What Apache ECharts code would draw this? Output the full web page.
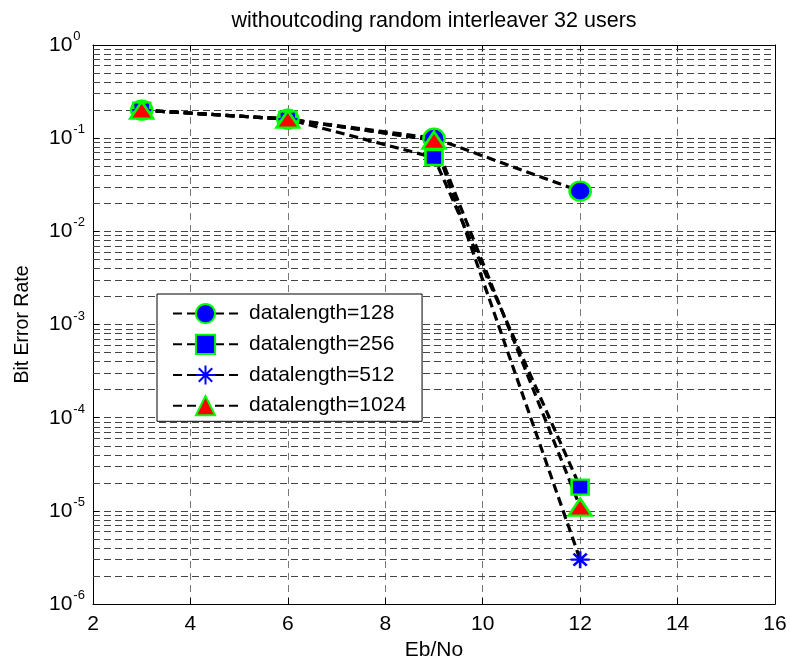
<!DOCTYPE html>
<html>
<head>
<meta charset="utf-8">
<script src="https://cdn.jsdelivr.net/npm/echarts@6/dist/echarts.min.js"></script>
<style>
  html, body { margin: 0; padding: 0; background: #fff; }
  #main { width: 790px; height: 666px; }
</style>
</head>
<body>
<div id="main"></div>
<script>
// data
var ebno = [3, 6, 9, 12];
var ber128 = [0.2, 0.16, 0.1, 0.027];
var ber256 = [0.2, 0.16, 0.062, 1.8e-5];
var ber512 = [0.2, 0.16, 0.095, 3e-6];
var ber1024 = [0.2, 0.16, 0.095, 1.1e-5];

var names = ['datalength=128', 'datalength=256', 'datalength=512', 'datalength=1024'];
var xTicks = [2, 4, 6, 8, 10, 12, 14, 16];
var yExps = [-6, -5, -4, -3, -2, -1, 0];

var FONT = '"Liberation Sans", Arial, Helvetica, sans-serif';

function pairs(xs, ys) {
    var out = [];
    for (var i = 0; i < xs.length; i++) {
        out.push([xs[i], ys[i]]);
    }
    return out;
}

// minor grid lines 2..9 x 10^e (matlab style log grid)
var minorLines = [];
for (var e = yExps[0]; e < yExps[yExps.length - 1]; e++) {
    for (var k = 2; k <= 9; k++) {
        minorLines.push({ yAxis: k * Math.pow(10, e) });
    }
}

var starPath = 'path://M10,0 L10,20 M0,10 L20,10 M3,3 L17,17 M17,3 L3,17';

function dataSeries(name, ys, symbol, size, fill, border) {
    return {
        name: name,
        type: 'line',
        data: pairs(ebno, ys),
        symbol: symbol,
        symbolSize: size,
        showAllSymbol: true,
        z: 3,
        lineStyle: { color: '#000', width: 3.2, type: [9, 5] },
        itemStyle: { color: fill, borderColor: border, borderWidth: 2.5 },
        emphasis: { disabled: true }
    };
}

var myChart = echarts.init(document.getElementById('main'), null, { renderer: 'canvas' });

var option = {
    animation: false,
    backgroundColor: '#fff',
    textStyle: { fontFamily: FONT },
    title: {
        text: 'withoutcoding random interleaver 32 users',
        left: 434,
        textAlign: 'center',
        top: 10,
        padding: 0,
        textStyle: { fontFamily: FONT, fontSize: 21.5, fontWeight: 'normal', color: '#000' }
    },
    grid: { left: 93, right: 15, top: 45, bottom: 60 },
    legend: {
        data: names,
        orient: 'vertical',
        left: 157,
        top: 294,
        z: 10,
        itemWidth: 65,
        itemHeight: 24,
        itemGap: 9.5,
        padding: [9, 16, 5, 15],
        backgroundColor: '#fff',
        borderColor: '#000',
        borderWidth: 1,
        borderRadius: 0,
        selectedMode: false,
        textStyle: { fontFamily: FONT, fontSize: 21, color: '#000', padding: [0, 0, 0, 6] }
    },
    xAxis: [{
        type: 'value',
        min: xTicks[0],
        max: xTicks[xTicks.length - 1],
        interval: 2,
        name: 'Eb/No',
        nameLocation: 'middle',
        nameGap: 33,
        nameTextStyle: { fontFamily: FONT, fontSize: 21, color: '#000' },
        axisLine: { show: true, onZero: false, lineStyle: { color: '#000', width: 1 } },
        axisTick: { show: true, inside: true, length: 6, lineStyle: { color: '#000' } },
        axisLabel: { margin: 10, fontFamily: FONT, fontSize: 21, color: '#000' },
        splitLine: { show: true, lineStyle: { color: '#777', width: 1, type: [7, 5] } }
    }, {
        type: 'value',
        position: 'top',
        min: xTicks[0],
        max: xTicks[xTicks.length - 1],
        interval: 2,
        axisLine: { show: true, onZero: false, lineStyle: { color: '#000', width: 1 } },
        axisTick: { show: true, inside: true, length: 6, lineStyle: { color: '#000' } },
        axisLabel: { show: false },
        splitLine: { show: false }
    }],
    yAxis: [{
        type: 'log',
        logBase: 10,
        min: Math.pow(10, yExps[0]),
        max: Math.pow(10, yExps[yExps.length - 1]),
        splitNumber: 6,
        name: 'Bit Error Rate',
        nameLocation: 'middle',
        nameRotate: 90,
        nameGap: 60,
        nameTextStyle: { fontFamily: FONT, fontSize: 19.5, color: '#000' },
        axisLine: { show: true, onZero: false, lineStyle: { color: '#000', width: 1 } },
        axisTick: { show: true, inside: true, length: 6, lineStyle: { color: '#000' } },
        axisLabel: {
            align: 'left',
            margin: 44,
            formatter: function(v) {
                var ex = Math.round(Math.log(v) / Math.LN10);
                return '{b|10}{s|' + ex + '}';
            },
            rich: {
                b: { fontFamily: FONT, fontSize: 21, color: '#000' },
                s: { fontFamily: FONT, fontSize: 13, color: '#000', padding: [0, 0, 17, 1] }
            }
        },
        splitLine: { show: true, lineStyle: { color: '#444', width: 1, type: [7, 4] } }
    }, {
        type: 'log',
        logBase: 10,
        position: 'right',
        min: Math.pow(10, yExps[0]),
        max: Math.pow(10, yExps[yExps.length - 1]),
        splitNumber: 6,
        axisLine: { show: true, onZero: false, lineStyle: { color: '#000', width: 1 } },
        axisTick: { show: true, inside: true, length: 6, lineStyle: { color: '#000' } },
        axisLabel: { show: false },
        splitLine: { show: false }
    }],
    series: [
        {
            name: 'grid',
            type: 'line',
            data: [],
            z: 1,
            silent: true,
            markLine: {
                z: 1,
                silent: true,
                precision: 12,
                symbol: ['none', 'none'],
                label: { show: false },
                lineStyle: { color: '#444', width: 1, type: [7, 4] },
                emphasis: { disabled: true },
                data: minorLines
            }
        },
        dataSeries(names[0], ber128, 'circle', [21, 19], '#0000ff', '#00ff00'),
        dataSeries(names[1], ber256, 'rect', [17, 15], '#0000ff', '#00ff00'),
        dataSeries(names[2], ber512, starPath, [19, 17], '#0000ff', '#0000ff'),
        dataSeries(names[3], ber1024, 'triangle', [23, 17], '#ff0000', '#00ff00')
    ]
};

myChart.setOption(option);
</script>
</body>
</html>
